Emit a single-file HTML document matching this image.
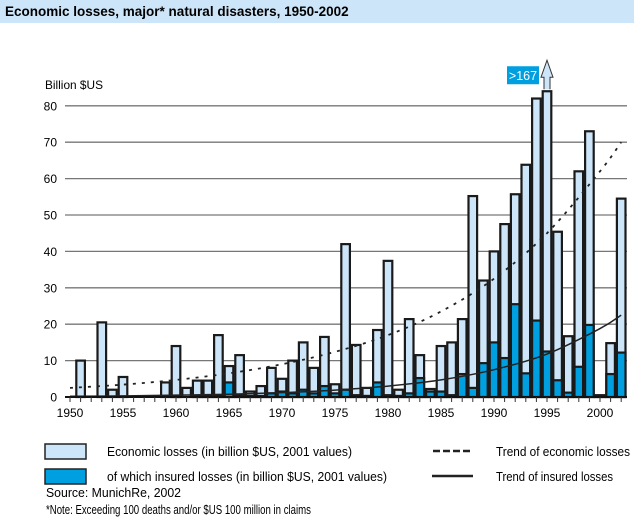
<!DOCTYPE html>
<html><head><meta charset="utf-8"><style>
html,body{margin:0;padding:0;background:#fff;}
svg{display:block;font-family:"Liberation Sans",sans-serif;}
</style></head><body>
<svg id="chart" width="634" height="519" viewBox="0 0 634 519" xmlns="http://www.w3.org/2000/svg">
<rect x="0" y="0" width="634" height="23" fill="#cde5f8"/>
<text x="5" y="16" font-size="13.5" font-weight="bold" fill="#000">Economic losses, major* natural disasters, 1950-2002</text>
<text x="45" y="89" font-size="12" textLength="58" lengthAdjust="spacingAndGlyphs">Billion $US</text>
<g id="grid"></g>
<g id="bars"></g>
<g id="trends"></g>
<g id="axis"></g>
<g>
<rect x="45" y="444" width="41" height="15" fill="#cde5f8" stroke="#222" stroke-width="1.5"/>
<text x="107" y="456" font-size="13" textLength="245" lengthAdjust="spacingAndGlyphs">Economic losses (in billion $US, 2001 values)</text>
<rect x="45" y="469" width="41" height="15" fill="#00a0e0" stroke="#222" stroke-width="1.5"/>
<text x="107" y="481" font-size="13" textLength="280" lengthAdjust="spacingAndGlyphs">of which insured losses (in billion $US, 2001 values)</text>
<line x1="433" y1="451" x2="470" y2="451" stroke="#222" stroke-width="2.5" stroke-dasharray="7,3"/>
<text x="496" y="456" font-size="13" textLength="134" lengthAdjust="spacingAndGlyphs">Trend of economic losses</text>
<line x1="432" y1="476" x2="473" y2="476" stroke="#222" stroke-width="2.5"/>
<text x="496" y="481" font-size="13" textLength="117" lengthAdjust="spacingAndGlyphs">Trend of insured losses</text>
</g>
<text x="46" y="497" font-size="13" textLength="135" lengthAdjust="spacingAndGlyphs">Source: MunichRe, 2002</text>
<text x="46" y="514" font-size="13" textLength="265" lengthAdjust="spacingAndGlyphs">*Note: Exceeding 100 deaths and/or $US 100 million in claims</text>
</svg>
<script>
const years = [1950,1951,1952,1953,1954,1955,1956,1957,1958,1959,1960,1961,1962,1963,1964,1965,1966,1967,1968,1969,1970,1971,1972,1973,1974,1975,1976,1977,1978,1979,1980,1981,1982,1983,1984,1985,1986,1987,1988,1989,1990,1991,1992,1993,1994,1995,1996,1997,1998,1999,2000,2001,2002];
const economicLosses = [0,10,0,20.5,2,5.5,0,0,0,4,14,2.5,4.5,4.5,17,8.5,11.5,1.5,3,8,5,10,15,8,16.5,3.5,42,14.3,2.5,18.4,37.4,2,21.4,11.5,2.2,14,15,21.4,55.2,32,40,47.5,55.7,63.8,82,167,45.4,16.7,62,73,0.5,14.8,54.5];
const insuredLosses = [0,0,0,0,0,0,0,0,0,0,0.3,0,0.3,0.3,0.5,4,0.5,0.3,0.3,1,1.5,1,2,1,3,1,2,0.5,0.3,4,0.5,0.3,1,5.2,1.5,1.5,0.5,6.3,2.5,9.3,15,10.7,25.5,6.5,21,12.5,4.6,1.2,8.3,19.8,0.3,6.3,12.2];
const trendYears = [1950,1955,1960,1965,1970,1975,1980,1985,1990,1995,2000,2002];
const economicTrend = [2.5,3.4,4.7,6.5,9,12.4,17,23.5,32.5,45,62,70];
const insuredTrend = [0.2,0.3,0.5,0.75,1.2,1.9,3,4.7,7.5,11.8,18.8,22.5];
const yTicks = [0,10,20,30,40,50,60,70,80];
const xTickLabels = [1950,1955,1960,1965,1970,1975,1980,1985,1990,1995,2000];
const capValue = 84;
const capLabel = ">167";

const NS = "http://www.w3.org/2000/svg";
const X = y => 70 + (y - 1950) * 10.6;
const Y = v => 397 - v * 3.64;
function mk(tag, attrs, parent){const e=document.createElementNS(NS,tag);for(const k in attrs)e.setAttribute(k,attrs[k]);parent.appendChild(e);return e;}
const grid=document.getElementById('grid'),bars=document.getElementById('bars'),trends=document.getElementById('trends'),axis=document.getElementById('axis');

yTicks.forEach(t=>{
  if(t>0){const l=mk('line',{x1:65,x2:627,y1:Y(t),y2:Y(t),stroke:'#777','stroke-width':1.3},grid);
  
  }
  const tx=mk('text',{x:57,y:Y(t)+4.5,'font-size':12,'text-anchor':'end'},grid);
  tx.textContent=t;
  
  
});

years.forEach((yr,i)=>{
  const v=economicLosses[i]; if(v<=0) return;
  const shown=Math.min(v,capValue);
  const cx=X(yr);
  const r=mk('rect',{x:cx-4.3,y:Y(shown),width:8.6,height:Y(0)-Y(shown),fill:'#cde5f8',stroke:'#1a1a1a','stroke-width':2.2},bars);
  
  
  const iv=insuredLosses[i];
  if(iv>0){const b=mk('rect',{x:cx-4.3,y:Y(iv),width:8.6,height:Y(0)-Y(iv),fill:'#00a0e0',stroke:'#1a1a1a','stroke-width':2.2},bars);
  
  }
  if(v>capValue){
    const top=Y(shown);
    const a=mk('path',{d:`M${cx-3} ${top-2} V${top-14} H${cx-6} L${cx} ${top-31} L${cx+6} ${top-14} H${cx+3} V${top-2}`,fill:'#cde5f8',stroke:'#333','stroke-width':1},bars);
    
    
    const bx=mk('rect',{x:cx-40,y:top-25,width:32,height:18,fill:'#00a0e0'},bars);
    
    
    const t=mk('text',{x:cx-24,y:top-11,'font-size':12.5,fill:'#fff','text-anchor':'middle'},bars);
    t.textContent=capLabel;
    
    
  }
});

function curve(vals){
  const p=trendYears.map((y,i)=>[X(y),Y(vals[i])]);
  let d=`M${p[0][0]} ${p[0][1]}`;
  for(let i=0;i<p.length-1;i++){
    const p0=p[Math.max(0,i-1)],p1=p[i],p2=p[i+1],p3=p[Math.min(p.length-1,i+2)];
    const c1=[p1[0]+(p2[0]-p0[0])/6,p1[1]+(p2[1]-p0[1])/6];
    const c2=[p2[0]-(p3[0]-p1[0])/6,p2[1]-(p3[1]-p1[1])/6];
    d+=` C${c1[0]} ${c1[1]} ${c2[0]} ${c2[1]} ${p2[0]} ${p2[1]}`;
  }
  return d;
}
const te=mk('path',{d:curve(economicTrend),fill:'none',stroke:'#222','stroke-width':1.8,'stroke-dasharray':'3,6'},trends);


const ti=mk('path',{d:curve(insuredTrend),fill:'none',stroke:'#222','stroke-width':1.5},trends);



const base=mk('line',{x1:65,x2:627,y1:397,y2:397,stroke:'#111','stroke-width':2},axis);


years.forEach(yr=>{
  const tk=mk('line',{x1:X(yr),x2:X(yr),y1:397,y2:402,stroke:'#333','stroke-width':1},axis);
  
  
});
xTickLabels.forEach(yr=>{
  const t=mk('text',{x:X(yr),y:417,'font-size':12,'text-anchor':'middle'},axis);
  t.textContent=yr;
  
  
});
</script>
</body></html>
